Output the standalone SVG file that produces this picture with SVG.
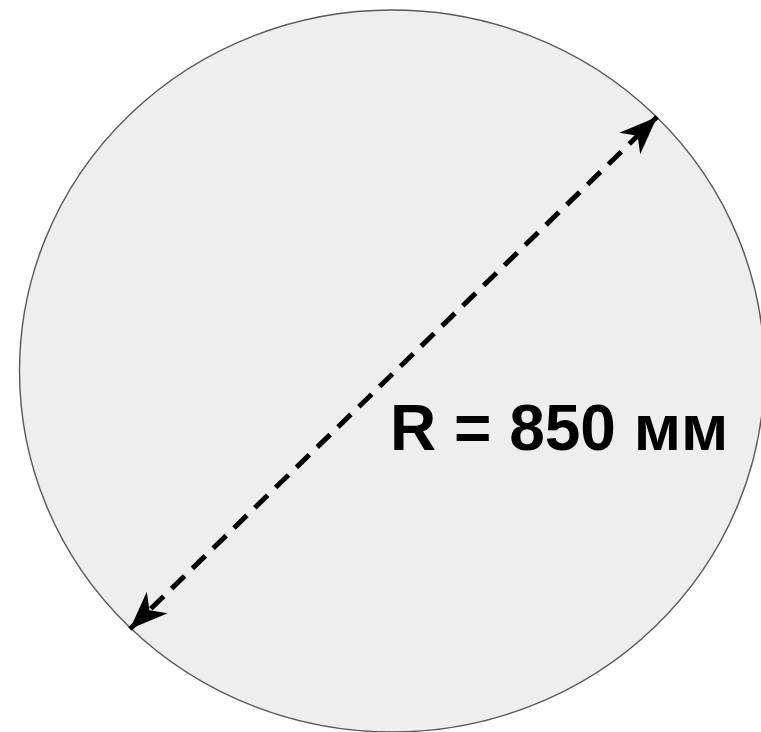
<svg xmlns="http://www.w3.org/2000/svg" width="761" height="732" viewBox="0 0 761 732">
<style>
.shape{fill:#eeeeee;stroke:#595959;stroke-width:1.4}
.dim{fill:none;stroke:#000;stroke-width:5;stroke-dasharray:18 11}
.lbl{font-family:"Liberation Sans",Arial,sans-serif;font-weight:bold;font-size:64px;fill:#000}
</style>
<defs>
<marker id="ah" markerUnits="userSpaceOnUse" viewBox="-40 -17 42 34" refX="0" refY="0" markerWidth="42" markerHeight="34" orient="auto-start-reverse">
<path d="M0,0 L-38,-15 L-27,0 L-38,15 Z" fill="#000"/>
</marker>
</defs>
<rect width="761" height="732" fill="#ffffff"/>
<g id="circle">
<ellipse class="shape" cx="392" cy="371" rx="372.5" ry="361"/>
</g>
<g id="connectors">
<line class="dim" x1="130" y1="629" x2="657" y2="117" marker-start="url(#ah)" marker-end="url(#ah)"/>
</g>
<g id="label">
<text class="lbl" x="390" y="450">R = 850 мм</text>
</g>
</svg>
